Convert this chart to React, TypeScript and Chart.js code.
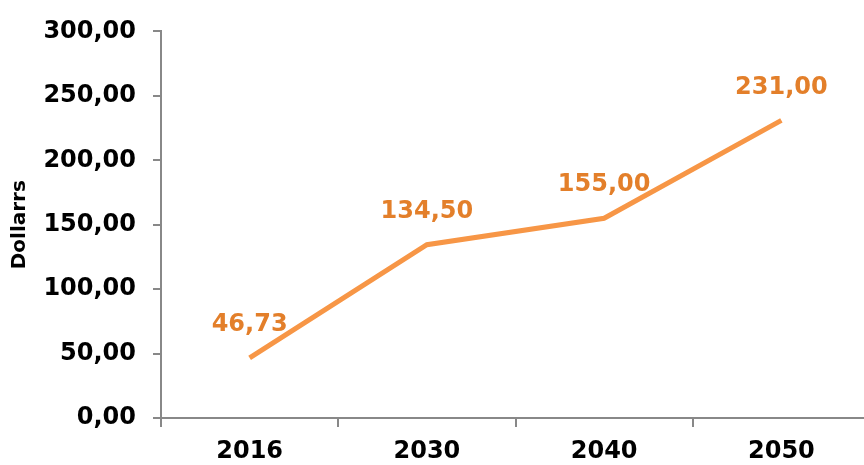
import React, { useEffect, useRef } from "react";
import { Chart, registerables } from "chart.js";

Chart.register(...registerables);

const categories = ["2016", "2030", "2040", "2050"];
const dollars = [46.73, 134.5, 155.0, 231.0];
const yTicks = [0, 50, 100, 150, 200, 250, 300];

const fmt = (v: number) => v.toFixed(2).replace(".", ",");
const FONT = "'DejaVu Sans', Verdana, sans-serif";

const labelPlugin = {
  id: "pointLabels",
  afterDatasetsDraw(chart: any) {
    const ctx = chart.ctx;
    const meta = chart.getDatasetMeta(0);
    ctx.save();
    ctx.font = `bold 24px ${FONT}`;
    ctx.fillStyle = "#E37F2A";
    ctx.textAlign = "center";
    ctx.textBaseline = "middle";
    meta.data.forEach((pt: any, i: number) => {
      ctx.fillText(fmt(dollars[i]), pt.x, pt.y - 33);
    });
    ctx.restore();
  },
};

export default function App() {
  const ref = useRef<HTMLCanvasElement>(null);
  useEffect(() => {
    document.body.style.margin = "0";
    document.body.style.overflow = "hidden";
    document.documentElement.style.overflow = "hidden";
    const chart = new Chart(ref.current!, {
      type: "line",
      data: {
        labels: categories,
        datasets: [
          {
            data: dollars,
            borderColor: "#F79646",
            borderWidth: 5,
            pointRadius: 0,
            tension: 0,
            fill: false,
          },
        ],
      },
      options: {
        animation: false,
        responsive: false,
        layout: { padding: { top: 29, right: 0, left: 0, bottom: 0 } },
        plugins: { legend: { display: false }, tooltip: { enabled: false } },
        scales: {
          x: {
            type: "category",
            offset: true,
            grid: {
              offset: true,
              drawOnChartArea: false,
              drawTicks: true,
              tickLength: 9,
              color: "#888888",
              lineWidth: 2,
            },
            border: { color: "#888888", width: 2 },
            ticks: {
              color: "#000000",
              font: { family: FONT, size: 24, weight: "bold" },
              padding: 10,
              maxRotation: 0,
            },
            afterFit: (s: any) => {
              s.height = 47;
            },
          },
          y: {
            min: 0,
            max: 300,
            afterBuildTicks: (s: any) => {
              s.ticks = yTicks.map((v) => ({ value: v }));
            },
            grid: {
              drawOnChartArea: false,
              drawTicks: true,
              tickLength: 8,
              color: "#888888",
              lineWidth: 2,
            },
            border: { color: "#888888", width: 2 },
            ticks: {
              color: "#000000",
              font: { family: FONT, size: 24, weight: "bold" },
              padding: 17,
              callback: (v: any) => fmt(Number(v)),
            },
            title: {
              display: true,
              text: "Dollarrs",
              color: "#000000",
              font: { family: FONT, size: 20, weight: "bold" },
              padding: { top: 8, bottom: 0 },
            },
            afterFit: (s: any) => {
              s.width = 161;
            },
          },
        },
      },
      plugins: [labelPlugin],
    });
    return () => chart.destroy();
  }, []);
  return (
    <div style={{ position: "fixed", left: 0, top: 0, width: 870, height: 465 }}>
      <canvas ref={ref} width={870} height={465} />
    </div>
  );
}
